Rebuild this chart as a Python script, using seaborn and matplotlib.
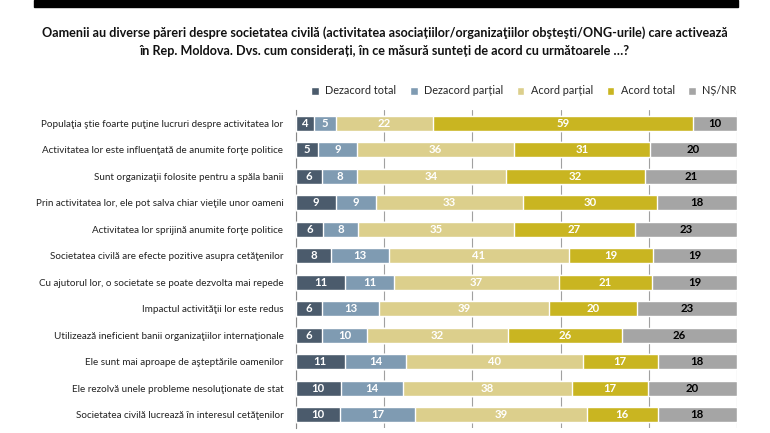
import numpy as np
import pandas as pd
import seaborn as sns
import matplotlib.pyplot as plt
from matplotlib.patches import Rectangle

# Date
afirmatii = [
    "Populaţia ştie foarte puţine lucruri despre activitatea lor",
    "Activitatea lor este influenţată de anumite forţe politice",
    "Sunt organizaţii folosite pentru a spăla banii",
    "Prin activitatea lor, ele pot salva chiar vieţile unor oameni",
    "Activitatea lor sprijină anumite forţe politice",
    "Societatea civilă are efecte pozitive asupra cetăţenilor",
    "Cu ajutorul lor, o societate se poate dezvolta mai repede",
    "Impactul activităţii lor este redus",
    "Utilizează ineficient banii organizaţiilor internaţionale",
    "Ele sunt mai aproape de aşteptările oamenilor",
    "Ele rezolvă unele probleme nesoluţionate de stat",
    "Societatea civilă lucrează în interesul cetăţenilor",
]
dezacord_total = [4, 5, 6, 9, 6, 8, 11, 6, 6, 11, 10, 10]
dezacord_partial = [5, 9, 8, 9, 8, 13, 11, 13, 10, 14, 14, 17]
acord_partial = [22, 36, 34, 33, 35, 41, 37, 39, 32, 40, 38, 39]
acord_total = [59, 31, 32, 30, 27, 19, 21, 20, 26, 17, 17, 16]
ns_nr = [10, 20, 21, 18, 23, 19, 19, 23, 26, 18, 20, 18]

serii = ["Dezacord total", "Dezacord parțial", "Acord parțial", "Acord total", "NȘ/NR"]
culori = ["#4b5b6c", "#7f9bb2", "#dccf8c", "#c9b521", "#a5a5a5"]
culori_text = ["white", "white", "white", "white", "black"]

df = pd.DataFrame({
    "afirmatie": afirmatii,
    serii[0]: dezacord_total,
    serii[1]: dezacord_partial,
    serii[2]: acord_partial,
    serii[3]: acord_total,
    serii[4]: ns_nr,
})

# 100% stacked: normalizam fiecare rand
valori = df[serii].astype(float)
procente = valori.div(valori.sum(axis=1), axis=0) * 100
cumulat = procente.cumsum(axis=1)

sns.set_style("white")
plt.rcParams["font.family"] = ["Lato", "DejaVu Sans"]

fig = plt.figure(figsize=(7.7, 4.33), dpi=100)
fig.patch.set_facecolor("white")
ax = fig.add_axes([296 / 770, 5 / 433, 441 / 770, 318 / 433])

# desenam de la ultima serie la prima, peste cumulat
for i in range(len(serii) - 1, -1, -1):
    sns.barplot(x=cumulat[serii[i]], y=df["afirmatie"], orient="h", color=culori[i],
                width=0.58, saturation=1, ax=ax, label=serii[i], zorder=3)

# etichete de valoare
for i, s in enumerate(serii):
    centru = cumulat[s] - procente[s] / 2
    for r in range(len(df)):
        ax.text(centru.iloc[r], r, str(df[s].iloc[r]), ha="center", va="center",
                color=culori_text[i], fontsize=8.2, fontweight="bold", zorder=4)

ax.set_xlim(0, 100)
ax.set_ylim(len(df) - 0.5, -0.5)
ax.set_xticks([0, 20, 40, 60, 80, 100])
ax.set_xticklabels([])
ax.tick_params(axis="x", length=0)
ax.grid(axis="x", color="#a0a0a0", linewidth=0.8, zorder=0)
ax.set_xlabel("")
ax.set_ylabel("")
ax.set_yticks(np.arange(len(df)))
ax.set_yticklabels(afirmatii, fontsize=7.15, color="#222222")
ax.tick_params(axis="y", length=0, pad=9)
# mici ticuri intre categorii
ax.set_yticks(np.arange(len(df) + 1) - 0.5, minor=True)
ax.tick_params(axis="y", which="minor", length=3, color="#888888", direction="out")
for sp in ["top", "right", "bottom"]:
    ax.spines[sp].set_visible(False)
ax.spines["left"].set_color("#888888")
ax.spines["left"].set_linewidth(0.8)

# legenda in ordinea originala
handles, labels = ax.get_legend_handles_labels()
ordine = [labels.index(s) for s in serii]
fig.legend([handles[k] for k in ordine], serii, loc="center", bbox_to_anchor=(524 / 770, 1 - 91 / 433),
           ncol=5, frameon=False, fontsize=7.8, handlelength=0.7, handleheight=0.7,
           handletextpad=0.6, columnspacing=1.25)
if ax.get_legend():
    ax.get_legend().remove()

# titlu
fig.text(0.5, 1 - 42 / 433,
         "Oamenii au diverse păreri despre societatea civilă (activitatea asociațiilor/organizaţiilor obşteşti/ONG-urile) care activează\n"
         "în Rep. Moldova. Dvs. cum considerați, în ce măsură sunteți de acord cu următoarele …?",
         ha="center", va="center", fontsize=9.1, fontweight="bold", linespacing=1.6, color="#111111")

# banda neagra de sus
fig.patches.append(Rectangle((34 / 770, 1 - 7 / 433), (738 - 34) / 770, 7 / 433,
                             transform=fig.transFigure, color="black", zorder=5))

fig.savefig("out.png", dpi=100, facecolor="white")
